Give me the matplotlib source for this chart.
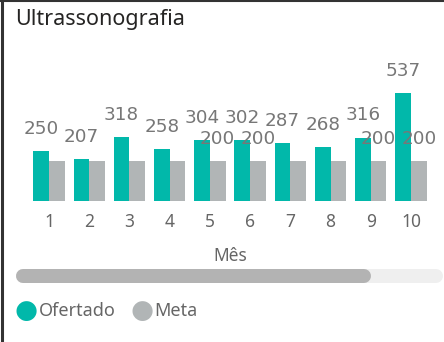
import matplotlib
matplotlib.use("Agg")
import matplotlib.pyplot as plt
from matplotlib.lines import Line2D

# ---- data ----
months = [1, 2, 3, 4, 5, 6, 7, 8, 9, 10]
ofertado = [250, 207, 318, 258, 304, 302, 287, 268, 316, 537]
meta = [200, 200, 200, 200, 200, 200, 200, 200, 200, 200]
meta_label_shown = [False, False, False, False, True, True, False, False, True, True]
series_names = ["Ofertado", "Meta"]
title = "Ultrassonografia"
x_title = "Mês"

TEAL = "#01B8AA"
GRAY = "#B1B5B6"
LABEL = "#777777"
TEXT_FONT = ["Noto Sans", "DejaVu Sans"]
NUM_FONT = ["DejaVu Sans"]

W, H = 444, 342
fig = plt.figure(figsize=(W / 100, H / 100), dpi=100)
fig.patch.set_facecolor("white")


def fx(px):
    return px / W


def fy(py):
    return 1 - py / H


# plot area: category 1 at 49 px, category 10 at 411 px, baseline at y=200.7 px
step = (411 - 49) / 9
x_left = 1 - 49 / step
x_right = 1 + (W - 49) / step
base_py, top_py = 200.7, 60.0
px_per_unit = 0.2
ax = fig.add_axes([0, fy(base_py), 1, (base_py - top_py) / H])
ax.set_xlim(x_left, x_right)
ax.set_ylim(0, (base_py - top_py) / px_per_unit)
ax.axis("off")

bw = 15.7 / step
xs = list(range(1, len(months) + 1))
ax.bar([x - bw / 2 for x in xs], ofertado, width=bw, color=TEAL, linewidth=0)
ax.bar([x + bw / 2 for x in xs], meta, width=bw, color=GRAY, linewidth=0)

lab_off = 22 / px_per_unit  # label centre above bar top
for x, v in zip(xs, ofertado):
    ax.text(x - bw / 2, v + lab_off, str(v), ha="center", va="center",
            fontsize=13.2, color=LABEL, family=NUM_FONT)
for x, v, show in zip(xs, meta, meta_label_shown):
    if show:
        ax.text(x + bw / 2, v + lab_off, str(v), ha="center", va="center",
                fontsize=13.2, color=LABEL, family=NUM_FONT)

# category labels
for x, m in zip(xs, months):
    ax.text(x, -21.5 / px_per_unit, str(m), ha="center", va="center",
            fontsize=12.5, color="#666666", family=TEXT_FONT)

fig.text(fx(230), fy(256), x_title, ha="center", va="center",
         fontsize=12.5, color="#666666", family=TEXT_FONT)

# title
fig.text(fx(15), fy(19), title, ha="left", va="center",
         fontsize=15.5, color="#252423", family=TEXT_FONT)

# scrollbar: light track with a darker rounded thumb on top
bar_px = 14
lw_pt = bar_px * 72 / 100
fig.add_artist(Line2D([fx(16 + 7), fx(443 - 7)], [fy(276), fy(276)],
                      color="#EFEFEF", linewidth=lw_pt, solid_capstyle="round",
                      transform=fig.transFigure))
fig.add_artist(Line2D([fx(16 + 7), fx(371 - 7)], [fy(276), fy(276)],
                      color="#B3B3B3", linewidth=lw_pt, solid_capstyle="round",
                      transform=fig.transFigure))

# legend
for cx, color, name, tx in [(26, TEAL, series_names[0], 39),
                            (142, GRAY, series_names[1], 154)]:
    fig.text(fx(cx), fy(311), "\u25CF", ha="center", va="center",
             fontsize=19, color=color, family=["DejaVu Sans"])
    fig.text(fx(tx), fy(311), name, ha="left", va="center",
             fontsize=13, color="#666666", family=TEXT_FONT)

# frame edges
fig.add_artist(Line2D([fx(0), fx(W)], [fy(0.5), fy(0.5)], color="#333333",
                      linewidth=1.5, transform=fig.transFigure))
fig.add_artist(Line2D([fx(1.5), fx(1.5)], [fy(0), fy(H)], color="#333333",
                      linewidth=2.2, transform=fig.transFigure))

fig.savefig("out.png", dpi=100)
